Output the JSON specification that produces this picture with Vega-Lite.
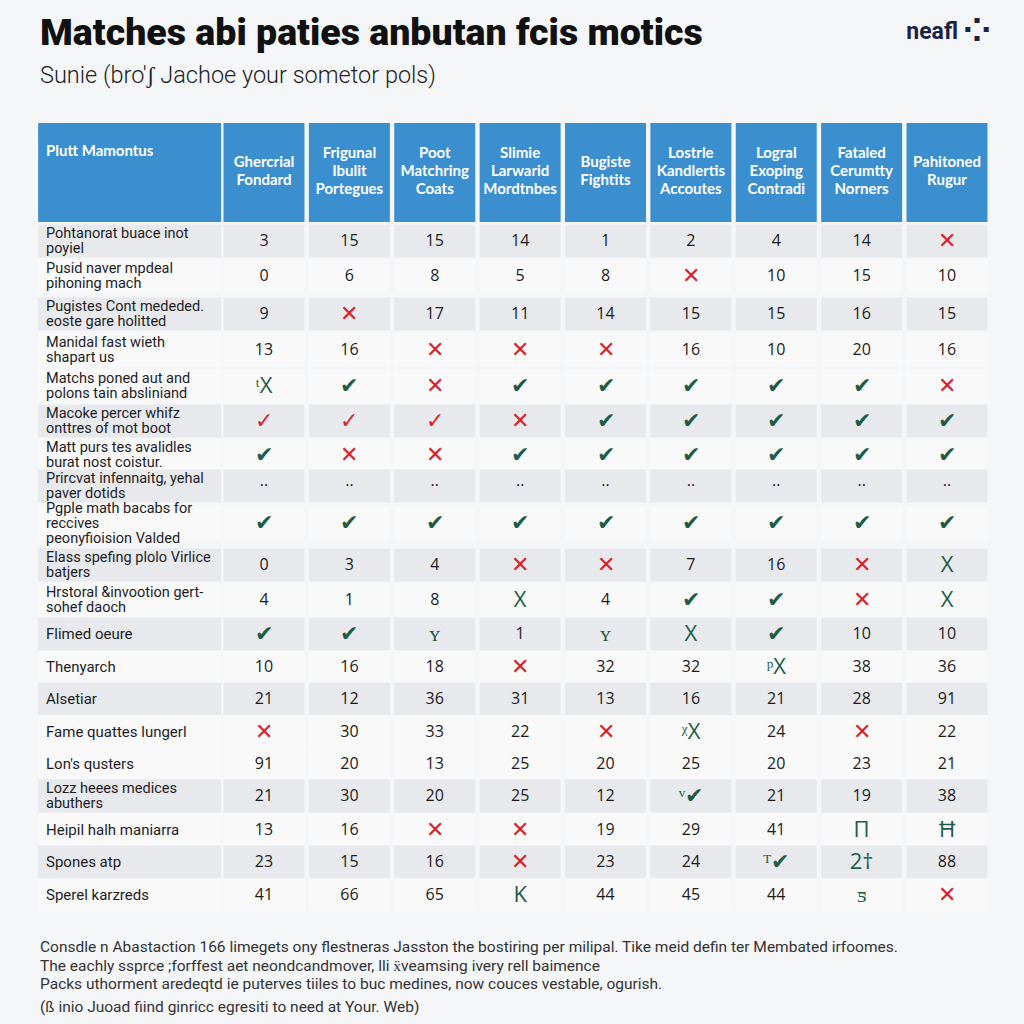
{
  "$schema": "https://vega.github.io/schema/vega-lite/v6.json",
  "width": 1024,
  "height": 924,
  "autosize": {"type": "none"},
  "padding": {"top": 100, "left": 0, "right": 0, "bottom": 0},
  "background": "#f5f6f8",
  "config": {"view": {"stroke": null}, "axis": {"disable": true}},
  "title": {
    "text": "Matches abi paties anbutan fcis motics",
    "subtitle": "Sunie (bro'ʃ Jachoe your sometor pols)",
    "anchor": "start",
    "frame": "group",
    "dx": 40,
    "offset": -72,
    "font": "Roboto",
    "fontSize": 37.5,
    "fontWeight": 900,
    "color": "#111111",
    "subtitleFont": "Roboto",
    "subtitleFontSize": 23.5,
    "subtitleFontWeight": 300,
    "subtitleColor": "#222222",
    "subtitlePadding": 11
  },
  "datasets": {
    "rows": [
      {"row": 1, "label": ["Pohtanorat buace inot", "poyiel"], "c1": "3", "c2": "15", "c3": "15", "c4": "14", "c5": "1", "c6": "2", "c7": "4", "c8": "14", "c9": "✕"},
      {"row": 2, "label": ["Pusid naver mpdeal", "pihoning mach"], "c1": "0", "c2": "6", "c3": "8", "c4": "5", "c5": "8", "c6": "✕", "c7": "10", "c8": "15", "c9": "10"},
      {"row": 3, "label": ["Pugistes Cont mededed.", "eoste gare holitted"], "c1": "9", "c2": "✕", "c3": "17", "c4": "11", "c5": "14", "c6": "15", "c7": "15", "c8": "16", "c9": "15"},
      {"row": 4, "label": ["Manidal fast wieth", "shapart us"], "c1": "13", "c2": "16", "c3": "✕", "c4": "✕", "c5": "✕", "c6": "16", "c7": "10", "c8": "20", "c9": "16"},
      {"row": 5, "label": ["Matchs poned aut and", "polons tain absliniand"], "c1": "ᵗX", "c2": "✔", "c3": "✕", "c4": "✔", "c5": "✔", "c6": "✔", "c7": "✔", "c8": "✔", "c9": "✕"},
      {"row": 6, "label": ["Macoke percer whifz", "onttres of mot boot"], "c1": "✓", "c2": "✓", "c3": "✓", "c4": "✕", "c5": "✔", "c6": "✔", "c7": "✔", "c8": "✔", "c9": "✔"},
      {"row": 7, "label": ["Matt purs tes avalidles", "burat nost coistur."], "c1": "✔", "c2": "✕", "c3": "✕", "c4": "✔", "c5": "✔", "c6": "✔", "c7": "✔", "c8": "✔", "c9": "✔"},
      {"row": 8, "label": ["Prircvat infennaitg, yehal", "paver dotids"], "c1": "··", "c2": "··", "c3": "··", "c4": "··", "c5": "··", "c6": "··", "c7": "··", "c8": "··", "c9": "··"},
      {"row": 9, "label": ["Pgple math bacabs for", "reccives", "peonyfioision Valded"], "c1": "✔", "c2": "✔", "c3": "✔", "c4": "✔", "c5": "✔", "c6": "✔", "c7": "✔", "c8": "✔", "c9": "✔"},
      {"row": 10, "label": ["Elass spefing plolo Virlice", "batjers"], "c1": "0", "c2": "3", "c3": "4", "c4": "✕", "c5": "✕", "c6": "7", "c7": "16", "c8": "✕", "c9": "X"},
      {"row": 11, "label": ["Hrstoral &invootion gert-", "sohef daoch"], "c1": "4", "c2": "1", "c3": "8", "c4": "X", "c5": "4", "c6": "✔", "c7": "✔", "c8": "✕", "c9": "X"},
      {"row": 12, "label": ["Flimed oeure"], "c1": "✔", "c2": "✔", "c3": "ʏ", "c4": "1", "c5": "ʏ", "c6": "X", "c7": "✔", "c8": "10", "c9": "10"},
      {"row": 13, "label": ["Thenyarch"], "c1": "10", "c2": "16", "c3": "18", "c4": "✕", "c5": "32", "c6": "32", "c7": "ᵖX", "c8": "38", "c9": "36"},
      {"row": 14, "label": ["Alsetiar"], "c1": "21", "c2": "12", "c3": "36", "c4": "31", "c5": "13", "c6": "16", "c7": "21", "c8": "28", "c9": "91"},
      {"row": 15, "label": ["Fame quattes lungerl"], "c1": "✕", "c2": "30", "c3": "33", "c4": "22", "c5": "✕", "c6": "ᵡX", "c7": "24", "c8": "✕", "c9": "22"},
      {"row": 16, "label": ["Lon's qusters"], "c1": "91", "c2": "20", "c3": "13", "c4": "25", "c5": "20", "c6": "25", "c7": "20", "c8": "23", "c9": "21"},
      {"row": 17, "label": ["Lozz heees medices", "abuthers"], "c1": "21", "c2": "30", "c3": "20", "c4": "25", "c5": "12", "c6": "ᵛ✔", "c7": "21", "c8": "19", "c9": "38"},
      {"row": 18, "label": ["Heipil halh maniarra"], "c1": "13", "c2": "16", "c3": "✕", "c4": "✕", "c5": "19", "c6": "29", "c7": "41", "c8": "Π", "c9": "Ħ"},
      {"row": 19, "label": ["Spones atp"], "c1": "23", "c2": "15", "c3": "16", "c4": "✕", "c5": "23", "c6": "24", "c7": "ᵀ✔", "c8": "2†", "c9": "88"},
      {"row": 20, "label": ["Sperel karzreds"], "c1": "41", "c2": "66", "c3": "65", "c4": "K", "c5": "44", "c6": "45", "c7": "44", "c8": "ƽ", "c9": "✕"}
    ],
    "hdr": [
      {"col": "c1", "t": ["Ghercrial", "Fondard"]},
      {"col": "c2", "t": ["Frigunal", "Ibulit", "Portegues"]},
      {"col": "c3", "t": ["Poot", "Matchring", "Coats"]},
      {"col": "c4", "t": ["Slimie", "Larwarid", "Mordtnbes"]},
      {"col": "c5", "t": ["Bugiste", "Fightits"]},
      {"col": "c6", "t": ["Lostrle", "Kandlertis", "Accoutes"]},
      {"col": "c7", "t": ["Logral", "Exoping", "Contradi"]},
      {"col": "c8", "t": ["Fataled", "Cerumtty", "Norners"]},
      {"col": "c9", "t": ["Pahitoned", "Rugur"]}
    ],
    "notes": [
      {"line": 21, "t": "Consdle n Abastaction 166 limegets ony flestneras Jasston the bostiring per milipal. Tike meid defin ter Membated irfoomes."},
      {"line": 22, "t": "The eachly ssprce ;forffest aet neondcandmover, lli ẍveamsing ivery rell baimence"},
      {"line": 23, "t": "Packs uthorment aredeqtd ie puterves tiiles to buc medines, now couces vestable, ogurish."},
      {"line": 24, "t": "(ß inio Juoad fiind ginricc egresiti to need at Your. Web)"}
    ]
  },
  "layer": [
    {
      "data": {"name": "rows"},
      "transform": [{"fold": ["c1", "c2", "c3", "c4", "c5", "c6", "c7", "c8", "c9"], "as": ["col", "v"]}],
      "mark": {"type": "tick", "thickness": 33, "size": 81, "opacity": 1},
      "encoding": {
        "x": {"field": "col", "type": "nominal", "scale": {"type": "point", "domain": ["c0", "c1", "c2", "c3", "c4", "c5", "c6", "c7", "c8", "c9"], "range": [178.625, 947], "padding": 0}},
        "y": {"field": "row", "type": "quantitative", "scale": {"domain": [-1, 0, 1, 2, 3, 4, 5, 6, 7, 8, 9, 10, 11, 12, 13, 14, 15, 16, 17, 18, 19, 20, 21, 22, 23, 24], "range": [-68, 72.5, 141, 176, 214, 250, 286, 321, 355, 386, 423, 465, 500, 534, 567, 599, 632, 664, 696, 730, 762, 795, 847, 866, 884, 907], "zero": false, "nice": false}},
        "color": {"condition": {"test": "indexof([1,3,6,8,10,12,14,17,19], datum.row) >= 0", "value": "#e8e9ed"}, "value": "#f9f9fa"}
      }
    },
    {
      "data": {"name": "rows"},
      "mark": {"type": "tick", "thickness": 33, "size": 183, "opacity": 1, "xOffset": -49},
      "encoding": {
        "x": {"datum": "c0", "type": "nominal"},
        "y": {"field": "row", "type": "quantitative"},
        "color": {"condition": {"test": "indexof([1,3,6,8,10,12,14,17,19], datum.row) >= 0", "value": "#e8e9ed"}, "value": "#f9f9fa"}
      }
    },
    {
      "data": {"name": "hdr"},
      "mark": {"type": "tick", "thickness": 99, "size": 81, "opacity": 1, "color": "#3c8fcf"},
      "encoding": {
        "x": {"field": "col", "type": "nominal"},
        "y": {"datum": 0, "type": "quantitative"}
      }
    },
    {
      "data": {"values": [{"t": "Plutt Mamontus"}]},
      "mark": {"type": "tick", "thickness": 99, "size": 183, "opacity": 1, "color": "#3c8fcf", "xOffset": -49},
      "encoding": {
        "x": {"datum": "c0", "type": "nominal"},
        "y": {"datum": 0, "type": "quantitative"}
      }
    },
    {
      "data": {"values": [{"t": "Plutt Mamontus"}]},
      "mark": {"type": "text", "align": "left", "baseline": "middle", "dx": -132.6, "dy": -22, "font": "Lato", "fontSize": 15, "fontWeight": "bold", "color": "#ffffff"},
      "encoding": {
        "x": {"datum": "c0", "type": "nominal"},
        "y": {"datum": 0, "type": "quantitative"},
        "text": {"field": "t"}
      }
    },
    {
      "data": {"name": "hdr"},
      "transform": [{"filter": "length(datum.t) == 2"}],
      "mark": {"type": "text", "align": "center", "baseline": "middle", "dy": -11, "font": "Lato", "fontSize": 15, "fontWeight": "bold", "lineHeight": 18, "color": "#ffffff"},
      "encoding": {
        "x": {"field": "col", "type": "nominal"},
        "y": {"datum": 0, "type": "quantitative"},
        "text": {"field": "t"}
      }
    },
    {
      "data": {"name": "hdr"},
      "transform": [{"filter": "length(datum.t) == 3"}],
      "mark": {"type": "text", "align": "center", "baseline": "middle", "dy": -19.5, "font": "Lato", "fontSize": 15, "fontWeight": "bold", "lineHeight": 18, "color": "#ffffff"},
      "encoding": {
        "x": {"field": "col", "type": "nominal"},
        "y": {"datum": 0, "type": "quantitative"},
        "text": {"field": "t"}
      }
    },
    {
      "data": {"name": "rows"},
      "transform": [{"filter": "length(datum.label) == 1"}],
      "mark": {"type": "text", "align": "left", "baseline": "middle", "dx": -132.6, "font": "Roboto", "fontSize": 15, "lineHeight": 15, "color": "#1d1d1f"},
      "encoding": {
        "x": {"datum": "c0", "type": "nominal"},
        "y": {"field": "row", "type": "quantitative"},
        "text": {"field": "label"}
      }
    },
    {
      "data": {"name": "rows"},
      "transform": [{"filter": "length(datum.label) == 2"}],
      "mark": {"type": "text", "align": "left", "baseline": "middle", "dx": -132.6, "dy": -7, "font": "Roboto", "fontSize": 14.5, "lineHeight": 15, "color": "#1d1d1f"},
      "encoding": {
        "x": {"datum": "c0", "type": "nominal"},
        "y": {"field": "row", "type": "quantitative"},
        "text": {"field": "label"}
      }
    },
    {
      "data": {"name": "rows"},
      "transform": [{"filter": "length(datum.label) == 3"}],
      "mark": {"type": "text", "align": "left", "baseline": "middle", "dx": -132.6, "dy": -14, "font": "Roboto", "fontSize": 14.5, "lineHeight": 15, "color": "#1d1d1f"},
      "encoding": {
        "x": {"datum": "c0", "type": "nominal"},
        "y": {"field": "row", "type": "quantitative"},
        "text": {"field": "label"}
      }
    },
    {
      "data": {"name": "rows"},
      "transform": [{"fold": ["c1", "c2", "c3", "c4", "c5", "c6", "c7", "c8", "c9"], "as": ["col", "v"]}],
      "mark": {"type": "text", "align": "center", "baseline": "middle", "font": "Open Sans"},
      "encoding": {
        "x": {"field": "col", "type": "nominal"},
        "y": {"field": "row", "type": "quantitative"},
        "text": {"field": "v"},
        "size": {"condition": {"test": "test(/^[0-9·]+$/, datum.v)", "value": 16}, "value": 22},
        "color": {"condition": [
          {"test": "datum.v === '✕' || datum.v === '✓'", "value": "#d7232c"},
          {"test": "test(/^[0-9·]+$/, datum.v)", "value": "#1c1c1c"}
        ], "value": "#1f5c45"}
      }
    },
    {
      "data": {"name": "notes"},
      "mark": {"type": "text", "align": "left", "baseline": "middle", "dx": -138.6, "font": "Liberation Sans Narrow, Roboto", "fontSize": 15.5, "color": "#333333"},
      "encoding": {
        "x": {"datum": "c0", "type": "nominal"},
        "y": {"field": "line", "type": "quantitative"},
        "text": {"field": "t"}
      }
    },
    {
      "data": {"values": [{"t": "neafl", "i": "⁘"}]},
      "mark": {"type": "text", "align": "right", "baseline": "middle", "dx": 11, "font": "Roboto", "fontSize": 23, "fontWeight": "bold", "color": "#1c2340"},
      "encoding": {
        "x": {"datum": "c9", "type": "nominal"},
        "y": {"datum": -1, "type": "quantitative"},
        "text": {"field": "t"}
      }
    },
    {
      "data": {"values": [{"t": "neafl", "i": "⁘"}]},
      "mark": {"type": "text", "align": "center", "baseline": "middle", "dx": 30, "font": "DejaVu Sans", "fontSize": 34, "fontWeight": "bold", "color": "#1c2340"},
      "encoding": {
        "x": {"datum": "c9", "type": "nominal"},
        "y": {"datum": -1, "type": "quantitative"},
        "text": {"field": "i"}
      }
    }
  ]
}
